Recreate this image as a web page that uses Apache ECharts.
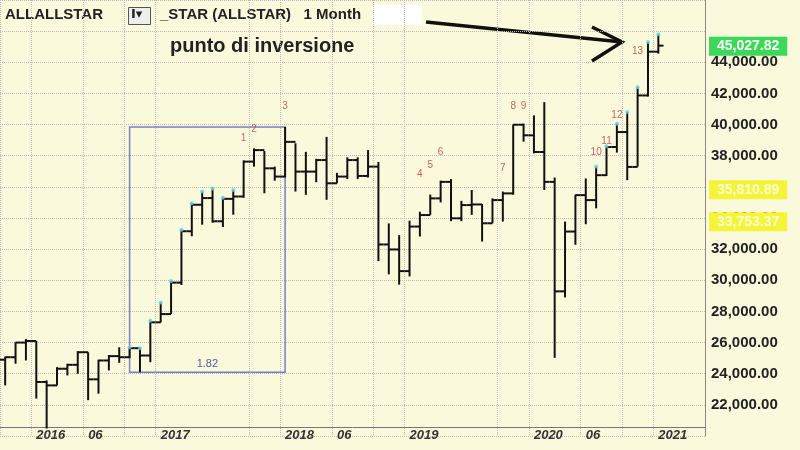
<!DOCTYPE html>
<html><head><meta charset="utf-8">
<script src="https://cdn.jsdelivr.net/npm/echarts@6/dist/echarts.min.js"></script>
<style>html,body{margin:0;padding:0;background:#fbf9dc}#c{width:800px;height:450px}</style>
</head><body><div id="c"></div>
<script>
const categories = ["2015-10","2015-11","2015-12",
"2016-01","2016-02","2016-03","2016-04","2016-05","2016-06","2016-07","2016-08","2016-09","2016-10","2016-11","2016-12",
"2017-01","2017-02","2017-03","2017-04","2017-05","2017-06","2017-07","2017-08","2017-09","2017-10","2017-11","2017-12",
"2018-01","2018-02","2018-03","2018-04","2018-05","2018-06","2018-07","2018-08","2018-09","2018-10","2018-11","2018-12",
"2019-01","2019-02","2019-03","2019-04","2019-05","2019-06","2019-07","2019-08","2019-09","2019-10","2019-11","2019-12",
"2020-01","2020-02","2020-03","2020-04","2020-05","2020-06","2020-07","2020-08","2020-09","2020-10","2020-11","2020-12",
"2021-01","2021-02","2021-03","2021-04","2021-05"];
const closes = [25060,26000,26100,23470,23250,24320,24570,25380,23640,24850,25130,25060,25640,25170,27300,
27830,29850,33150,34850,35280,33790,35230,35380,37620,38360,37190,36660,
38890,36980,36980,37720,36230,36660,37720,36700,37300,32300,31980,30590,
33450,34190,35260,36320,33980,34830,34870,33660,35150,35580,39990,39310,
38240,36320,29290,33130,35470,35150,36750,38560,39520,37280,41870,44680,45070];
const highs = [25100,26020,26230,26100,23570,24420,24640,25450,25380,24900,25200,25700,25700,25640,27400,
28570,29960,33250,34950,35700,35900,35300,35800,37700,38470,38300,37300,
39850,38800,38250,37800,39210,36900,37900,37900,38360,37600,33650,32900,
33830,34400,35500,36400,36500,35100,35800,34900,35260,35700,40000,40060,
40590,41440,36600,33770,35500,36540,37300,38600,40050,40800,42400,45300,45800];
const lows = [23250,24640,24850,22400,20480,23250,23890,24000,22300,22720,24210,24700,25000,24100,24740,
27300,27830,29700,32830,33570,33700,33420,34210,35300,37300,35590,36400,
36600,35700,35490,36300,35170,36230,36500,36500,36600,31230,30380,29720,
30250,32810,34200,35000,33800,33800,34200,32490,33660,33770,35500,38900,
38150,35800,25020,28900,32280,33600,34620,36700,38200,36430,37300,41800,44560];
const firstOpen = 24900;
const countLabels = [[23,"1"],[24,"2"],[27,"3"],[40,"4"],[41,"5"],[42,"6"],[48,"7"],[49,"8"],[50,"9"],[57,"10"],[58,"11"],[59,"12"],[61,"13"]];
const countValues = [39100,39700,41200,36800,37400,38200,37200,41200,41200,38200,38900,40600,44700];
const cyanIdx = [12,13,14,15,16,17,18,19,20,21,22,57,58,59,60,61,62,63];
const priceTags = [[45027.82,"#3bd85a","#ffffff"],[35810.89,"#f4f43a","#fffbd0"],[33753.37,"#f4f43a","#fffbd0"]];
const boxRange = {x0:"2016-10", x1:"2018-01", y0:24100, y1:39850, text:"1.82"};

const ohlc = closes.map((c,i)=>[i, i===0?firstOpen:closes[i-1], highs[i], lows[i], c]);
const chart = echarts.init(document.getElementById('c'));
const showLab = v => /-01$/.test(v) || v==="2016-06"||v==="2018-06"||v==="2020-06";
const fmt = v => v.toLocaleString('en-US',{minimumFractionDigits:2,maximumFractionDigits:2});
chart.setOption({
  backgroundColor:'#fbf9dc',
  animation:false,
  grid:{left:-3,right:95,top:-3,bottom:14},
  xAxis:{type:'category',data:categories,offset:-9,
    axisLine:{lineStyle:{color:'#777'}},
    axisTick:{alignWithLabel:true,length:12,interval:(i,v)=>showLab(v),lineStyle:{color:'#555'}},
    axisLabel:{interval:(i,v)=>showLab(v),align:'left',margin:2,fontWeight:'bold',fontStyle:'italic',fontSize:13,color:'#333',fontFamily:'Liberation Sans',
      formatter:v=>v.endsWith('-01')?v.slice(0,4):v.slice(5)},
    splitLine:{show:true,interval:(i,v)=>showLab(v)||v.endsWith('-10'),lineStyle:{type:'dotted',color:'#bbb'}}},
  yAxis:{type:'value',position:'right',min:20000,max:48000,interval:2000,
    axisLine:{show:true,lineStyle:{color:'#888'}},axisTick:{show:false},
    axisLabel:{fontWeight:'bold',fontSize:15,color:'#222',fontFamily:'Liberation Sans',margin:6,
      formatter:v=>(v===20000||v===48000||v===46000)?'':fmt(v)},
    splitLine:{lineStyle:{type:'dotted',color:'#bbb'}}},
  series:[
   {type:'custom',data:ohlc,encode:{x:0,y:[1,2,3,4]},
    renderItem:(p,api)=>{
      const i=api.value(0),o=api.value(1),h=api.value(2),l=api.value(3),c=api.value(4);
      const w=api.size([1,0])[0]/2;
      const ph=api.coord([i,h]),pl=api.coord([i,l]),po=api.coord([i,o]),pc=api.coord([i,c]);
      const st={stroke:'#111',lineWidth:2};
      return {type:'group',children:[
        {type:'line',shape:{x1:ph[0],y1:ph[1],x2:pl[0],y2:pl[1]},style:st},
        {type:'line',shape:{x1:po[0]-w,y1:po[1],x2:po[0],y2:po[1]},style:st},
        {type:'line',shape:{x1:pc[0],y1:pc[1],x2:pc[0]+w,y2:pc[1]},style:st}]};
    },
    markArea:{silent:true,itemStyle:{color:'rgba(0,0,0,0)',borderColor:'#7b7fc4',borderWidth:1.5},
      label:{show:true,position:'insideBottom',color:'#5555aa',fontSize:11,distance:3},
      data:[[{name:boxRange.text,xAxis:boxRange.x0,yAxis:boxRange.y1},{xAxis:boxRange.x1,yAxis:boxRange.y0}]]}
   },
   {type:'line',data:[],markLine:{silent:true,symbol:'none',
      data:priceTags.map(t=>({yAxis:t[0],lineStyle:{color:'rgba(0,0,0,0)',width:1},
        label:{show:true,position:'end',distance:4,formatter:()=>fmt(t[0]),
        backgroundColor:t[1],color:t[2],fontSize:14,fontWeight:'bold',padding:[3,8,2,8],fontFamily:'Liberation Sans'}}))}},
   {type:'scatter',symbolSize:4,itemStyle:{color:'#5fd3e6'},data:cyanIdx.map(i=>[i,highs[i]]),z:3},
   {type:'scatter',symbolSize:0,data:countLabels.map((d,k)=>[d[0],countValues[k],d[1]]),
    label:{show:true,formatter:p=>p.data[2],color:'#b84040',fontSize:10,position:'inside'}}
  ],
  graphic:[
    {type:'text',left:5,top:7,style:{text:'ALLALLSTAR',font:'bold 15px Liberation Sans',fill:'#222'}},
    {type:'rect',left:128,top:7,shape:{width:22,height:17},style:{fill:'#eee',stroke:'#555'}},
    {type:'text',left:131,top:8,style:{text:'I▾',font:'bold 13px DejaVu Sans',fill:'#222'}},
    {type:'text',left:160,top:7,style:{text:'_STAR (ALLSTAR)   1 Month',font:'bold 15px Liberation Sans',fill:'#222'}},
    {type:'rect',left:372,top:5,shape:{width:50,height:20},style:{fill:'#ffffff'}},
    {type:'text',left:170,top:36,style:{text:'punto di inversione',font:'bold 20px Liberation Sans',fill:'#222'}},
    {type:'polyline',shape:{points:[[426,22],[622,42]]},style:{stroke:'#111',lineWidth:3.5}},
    {type:'polyline',shape:{points:[[592,27],[622,42],[592,61]]},style:{stroke:'#111',lineWidth:3.5,fill:null}}
  ]
});
</script></body></html>
